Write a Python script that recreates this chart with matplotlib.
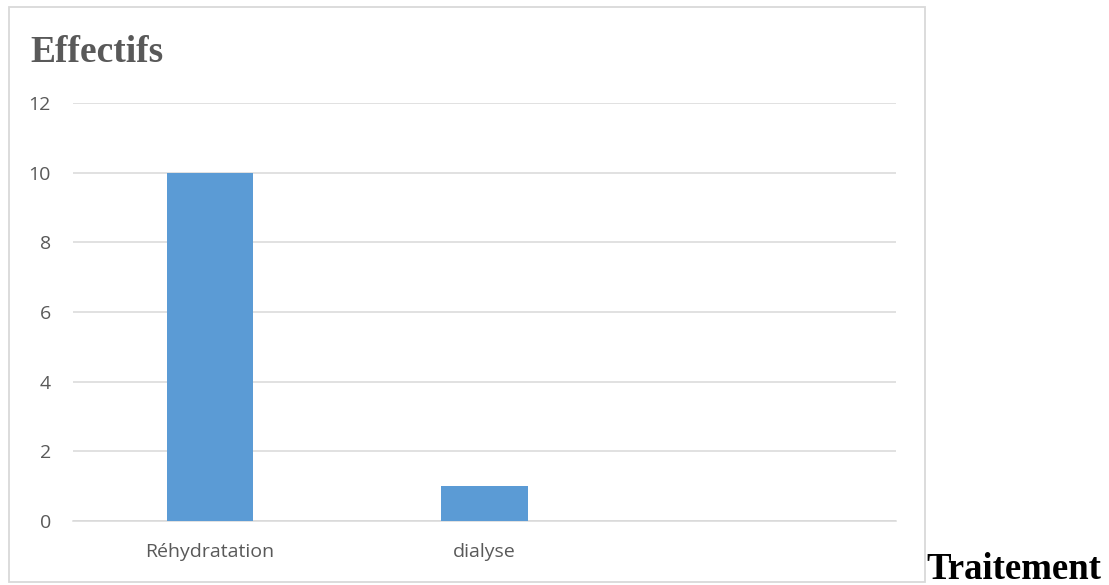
import matplotlib.pyplot as plt
from matplotlib.patches import Rectangle

categories = ["Réhydratation", "dialyse", ""]
effectifs = [10, 1, 0]
yticks = [0, 2, 4, 6, 8, 10, 12]

W, H = 1109, 585
fig = plt.figure(figsize=(W / 100, H / 100), dpi=100)

# chart frame
fig.patches.append(Rectangle((9 / W, 3 / H), 916 / W, 575 / H, transform=fig.transFigure,
                             fill=False, edgecolor="#d9d9d9", linewidth=1.3))

ax = fig.add_axes([73 / W, 64 / H, 823 / W, 418 / H])
x = range(len(categories))
ax.bar(x, effectifs, width=0.314, color="#5b9bd5", zorder=3)
ax.set_xlim(-0.5, 2.5)
ax.set_ylim(0, 12)
ax.set_yticks(yticks)
ax.set_xticks(list(x))
ax.set_xticklabels(categories)
ax.grid(axis="y", color="#d9d9d9", linewidth=1.1, zorder=0)
for s in ["top", "right", "left"]:
    ax.spines[s].set_visible(False)
ax.spines["bottom"].set_color("#d9d9d9")
ax.spines["bottom"].set_linewidth(1.1)
ax.tick_params(axis="both", length=0, colors="#595959", labelsize=14)
ax.tick_params(axis="y", pad=16)
ax.tick_params(axis="x", pad=16)
for t in ax.get_xticklabels() + ax.get_yticklabels():
    t.set_family("Open Sans")

fig.text(30 / W, 1 - 62 / H, "Effectifs", family="Liberation Serif", weight="bold",
         fontsize=27, color="#595959", ha="left", va="baseline")
fig.text(926 / W, 1 - 579 / H, "Traitement", family="Liberation Serif", weight="bold",
         fontsize=26.5, color="black", ha="left", va="baseline")

fig.savefig("out.png", dpi=100)
